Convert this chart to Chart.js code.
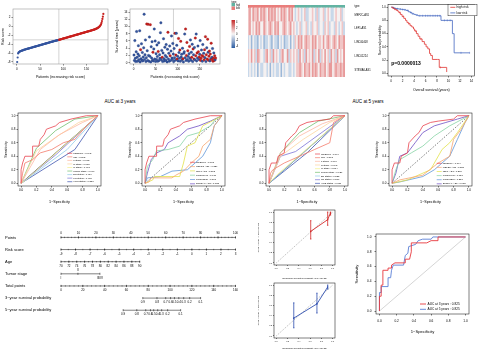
<!DOCTYPE html>
<html>
<head>
<meta charset="utf-8">
<script src="https://cdn.jsdelivr.net/npm/chart.js@4.4.1/dist/chart.umd.min.js"></script>
<style>
body{margin:0;width:480px;height:350px;background:#fff;position:relative;overflow:hidden;font-family:"Liberation Sans",Arial,sans-serif}
canvas{position:absolute}
.t{position:absolute;white-space:nowrap;color:#000;transform:translate(-50%,-50%)}
</style>
</head>
<body>
<div class="t" style="left:120px;top:101px;font-size:4.6px">AUC at 3 years</div>
<div class="t" style="left:368px;top:101px;font-size:4.6px">AUC at 5 years</div>
<script>
// ---- risk score / survival scatter ----
const riskScore = [-8.0,-7.0,-6.1,-5.9,-5.8,-5.72,-5.66,-5.6,-5.56,-5.52,
  -5.48,-5.44,-5.4,-5.36,-5.32,-5.28,-5.25,-5.22,-5.19,-5.16,
  -5.13,-5.1,-5.07,-5.04,-5.01,-4.98,-4.95,-4.92,-4.89,-4.86,
  -4.83,-4.8,-4.77,-4.74,-4.71,-4.68,-4.65,-4.62,-4.59,-4.56,
  -4.53,-4.5,-4.47,-4.44,-4.41,-4.38,-4.35,-4.32,-4.29,-4.26,
  -4.23,-4.2,-4.17,-4.14,-4.11,-4.08,-4.05,-4.02,-3.99,-3.96,
  -3.93,-3.9,-3.87,-3.84,-3.81,-3.78,-3.75,-3.72,-3.69,-3.66,
  -3.63,-3.6,-3.57,-3.54,-3.51,-3.48,-3.45,-3.42,-3.39,-3.36,
  -3.33,-3.3,-3.28,-3.26,-3.24,-3.21,-3.18,-3.15,-3.12,-3.09,
  -3.06,-3.03,-3.0,-2.97,-2.94,-2.91,-2.88,-2.85,-2.82,-2.79,
  -2.76,-2.73,-2.7,-2.67,-2.64,-2.61,-2.58,-2.55,-2.52,-2.49,
  -2.46,-2.43,-2.4,-2.37,-2.34,-2.31,-2.28,-2.25,-2.22,-2.19,
  -2.16,-2.13,-2.1,-2.07,-2.04,-2.01,-1.98,-1.95,-1.92,-1.89,
  -1.86,-1.83,-1.8,-1.77,-1.74,-1.71,-1.68,-1.65,-1.62,-1.59,
  -1.56,-1.53,-1.5,-1.47,-1.44,-1.41,-1.38,-1.35,-1.32,-1.29,
  -1.26,-1.23,-1.2,-1.17,-1.14,-1.11,-1.08,-1.05,-1.02,-0.99,
  -0.96,-0.93,-0.9,-0.87,-0.84,-0.8,-0.76,-0.72,-0.68,-0.64,
  -0.59,-0.54,-0.48,-0.42,-0.35,-0.27,-0.18,-0.08,0.05,0.2,
  0.4,0.7,1.1,1.6,2.1,2.7];
const riskCut = -3.07;
const medianPatient = 90.5;
const survTime = [2.1,0.6,6.1,1.2,0.3,3.0,8.6,1.5,0.4,2.4,
  4.7,0.8,1.9,8.8,0.2,3.6,1.1,5.2,0.7,2.8,
  0.5,1.6,4.1,13.4,0.9,2.2,6.3,0.3,1.4,10.7,
  3.3,0.6,10.6,2.0,0.4,7.1,1.8,10.5,0.2,4.4,
  1.3,5.8,0.7,2.9,0.5,3.8,9.3,1.0,6.0,0.3,
  2.5,0.9,4.9,1.7,0.4,3.1,5.5,0.6,2.2,1.2,
  8.3,11.0,0.8,3.4,1.5,0.3,2.7,6.6,1.1,0.5,
  4.3,2.0,0.7,5.0,1.6,0.2,3.7,8.4,1.0,2.6,
  0.4,4.6,1.9,0.6,3.2,7.4,1.3,0.9,5.3,2.4,
  0.3,3.9,1.4,8.1,0.7,2.1,8.1,4.8,1.0,1.8,
  0.5,6.7,2.8,1.2,3.5,0.4,5.9,1.6,2.3,0.8,
  4.0,1.1,0.2,2.6,3.0,7.9,1.4,9.3,0.6,2.0,
  5.6,0.9,3.3,1.7,0.4,2.5,4.5,1.2,6.3,0.7,
  2.9,1.5,5.1,0.3,3.8,2.2,1.0,4.2,0.8,6.8,
  1.9,7.9,0.5,2.7,1.3,4.6,3.0,0.9,1.6,2.3,
  6.1,0.6,1.2,3.5,2.0,0.4,5.0,1.7,2.6,0.8,
  3.6,1.4,7.2,0.3,2.2,4.1,1.0,6.5,2.9,0.7,
  1.8,3.2,0.5,2.4,1.1,5.4,0.9,1.5,3.9,0.4,
  1.2,2.7,0.6,1.9,0.8,1.3];
const survStatus = [0,0,0,0,0,0,0,0,0,0, 0,0,0,0,0,1,0,0,0,0, 0,0,0,0,0,0,0,0,0,1,
  0,0,1,0,0,0,0,1,0,0, 0,0,0,1,0,0,0,0,0,0, 0,0,0,0,0,1,0,0,0,0,
  0,0,0,0,1,0,0,0,0,0, 0,0,0,0,0,0,0,1,0,0, 0,0,1,0,0,0,0,0,0,0,
  0,0,0,1,0,1,0,0,1,0, 0,1,0,0,1,0,1,0,0,0, 0,1,0,0,0,0,0,1,0,1,
  1,0,1,0,0,0,1,0,0,0, 0,1,0,0,1,0,1,0,0,1, 1,0,0,1,0,0,1,0,1,0,
  0,1,1,0,1,0,0,1,0,1, 1,0,1,0,1,0,1,1,0,1, 1,1,0,1,0,1,1,0,0,1,
  1,0,1,1,0,1];
const patientTicks = [0,50,100,150];
const riskTicks = [-8,-6,-4,-2,0,2];
const timeTicks = [0,2,4,6,8,10,12,14];
const colourBarTicks = ['4','2','0','-2','-4'];

// ---- heatmap (0 = low/blue ... 3 = mid ... 6 = high/red) ----
const genes = ['MEF2C-AS1','LEF1-AS1','LINC00408','LINC01224','ST8SIA6-AS1'];
const heatType = 'llllllllll' + 'llllllllll' + 'llllllllll' + 'hhhhhhhhhh' + 'hhhhhhhhhh' + 'hhhhhhhhhh' + 'hh';
const heatRows = [
  '453544535454354545343545435453' + '23432342233432423342343223433423',
  '453435453354345435453345434534' + '32342334232433423324342332432342',
  '231322132312232132213231223132' + '43545345443545344353454345435445',
  '435342543324534253432453352434' + '34253425343524352435342534253435',
  '232323132233231323223132332232' + '34454354453545435445345534544545'
];

// ---- Kaplan-Meier ----
const kmHighT = [0,0.2,0.4,0.6,0.8,1.0,1.2,1.35,1.6,1.9,2.2,2.5,2.75,3.0,3.3,3.6,3.9,4.1,4.4,4.7,5.0,5.4,5.8,6.1,6.4,6.7,6.9,7.2,8.1,8.4,9.6,9.7];
const kmHighS = [1,0.99,0.98,0.97,0.96,0.95,0.93,0.92,0.89,0.86,0.83,0.8,0.77,0.75,0.72,0.7,0.67,0.64,0.6,0.56,0.52,0.48,0.44,0.4,0.37,0.3,0.27,0.21,0.21,0.09,0.09,0.02];
const kmLowT = [0,0.3,0.6,1.0,1.4,1.8,2.2,2.6,3.0,3.3,3.6,4.0,4.3,4.7,8.7,10.7,11.0,13.7];
const kmLowS = [1,0.99,0.98,0.975,0.97,0.965,0.96,0.95,0.93,0.92,0.9,0.89,0.88,0.87,0.8,0.6,0.31,0.31];
const kmHighCensor = [0.3,0.6,0.9,1.5,2.1,3.1,4.3,5.2,8.6];
const kmLowCensor = [0.4,0.7,1.1,1.6,2.0,2.4,2.9,3.4,3.8,4.5,5.0,5.5,6.0,6.4,6.8,7.3,7.7,8.1,8.5,9.3,9.8,10.3,12.2,13.7];
const kmTimeTicks = [0,2,4,6,8,10,12,14];
const probTicks = [0,0.2,0.4,0.6,0.8,1];
const pValue = 'p=0.0000013';

// ---- ROC curves ----
const clinicalNames = ['riskScore','age','T stage','N stage','M stage','Tumor stage','ER status','PR status','Her2 status'];
const geneNames = ['riskScore','MEF2C-AS1','LEF1-AS1','LINC00408','LINC01224','ST8SIA6-AS1'];
const auc3Clinical = ['0.792','0.562','0.613','0.685','0.481','0.669','0.454','0.473','0.358'];
const auc5Clinical = ['0.794','0.561','0.664','0.695','0.514','0.727','0.533','0.506','0.637'];
const auc3Gene = ['0.792','0.329','0.565','0.610','0.398','0.622'];
const auc5Gene = ['0.794','0.356','0.368','0.627','0.327','0.638'];
const roc3Risk = [[0,0],[0,0.2],[0.02,0.3],[0.05,0.4],[0.15,0.4],[0.15,0.55],[0.23,0.55],[0.25,0.65],[0.3,0.72],[0.33,0.8],[0.45,0.85],[0.5,0.9],[0.65,0.95],[0.85,1],[1,1]];
const roc5Risk = [[0,0],[0,0.2],[0.03,0.3],[0.1,0.3],[0.12,0.4],[0.2,0.45],[0.22,0.6],[0.3,0.7],[0.35,0.75],[0.4,0.85],[0.5,0.9],[0.6,0.92],[0.8,0.95],[0.85,1],[1,1]];
const roc3Clinical = [roc3Risk,
  [[0,0],[0.02,0.15],[0.05,0.3],[0.15,0.35],[0.25,0.45],[0.4,0.5],[0.55,0.6],[0.7,0.65],[0.85,0.85],[1,1]],
  [[0,0],[0.25,0.5],[0.5,0.72],[0.8,0.9],[1,1]],
  [[0,0],[0.2,0.48],[0.45,0.68],[0.75,0.9],[1,1]],
  [[0,0],[0.05,0.04],[1,1]],
  [[0,0],[0.2,0.52],[0.45,0.78],[0.7,0.95],[1,1]],
  [[0,0],[0.6,0.5],[1,1]],
  [[0,0],[0.45,0.42],[1,1]],
  [[0,0],[0.7,0.5],[1,1]]];
const roc3Gene = [roc3Risk,
  [[0,0],[0.05,0.02],[0.08,0.08],[0.35,0.08],[0.4,0.12],[0.5,0.18],[0.6,0.3],[0.7,0.4],[0.75,0.55],[0.85,0.65],[0.9,0.85],[1,1]],
  [[0,0],[0.1,0.05],[0.12,0.1],[0.45,0.1],[0.5,0.3],[0.55,0.55],[0.65,0.6],[0.75,0.85],[0.92,0.95],[1,1]],
  [[0,0],[0.03,0.25],[0.1,0.35],[0.15,0.48],[0.3,0.5],[0.45,0.55],[0.55,0.7],[0.7,0.75],[0.85,0.85],[0.92,0.95],[1,1]],
  [[0,0],[0.03,0.08],[0.2,0.1],[0.35,0.18],[0.55,0.2],[0.65,0.3],[0.75,0.4],[0.85,0.6],[0.9,0.85],[1,1]],
  [[0,0],[0.03,0.15],[0.08,0.35],[0.15,0.45],[0.25,0.5],[0.3,0.6],[0.45,0.7],[0.55,0.8],[0.7,0.85],[0.85,0.92],[1,1]]];
const roc5Clinical = [roc5Risk,
  [[0,0],[0.02,0.15],[0.05,0.2],[0.2,0.3],[0.4,0.4],[0.6,0.5],[0.8,0.6],[0.85,0.9],[1,1]],
  [[0,0],[0.15,0.45],[0.4,0.7],[0.7,0.88],[1,1]],
  [[0,0],[0.15,0.4],[0.45,0.65],[0.8,0.9],[1,1]],
  [[0,0],[0.1,0.12],[1,1]],
  [[0,0],[0.15,0.45],[0.4,0.75],[0.65,0.92],[1,1]],
  [[0,0],[0.55,0.55],[1,1]],
  [[0,0],[0.15,0.4],[0.35,0.47],[1,1]],
  [[0,0],[0.5,0.45],[1,1]]];
const roc5Gene = [roc5Risk,
  [[0,0],[0.1,0.05],[0.4,0.12],[0.6,0.3],[0.75,0.4],[0.8,0.65],[0.9,0.8],[1,1]],
  [[0,0],[0.2,0.05],[0.5,0.2],[0.65,0.5],[0.75,0.6],[0.85,0.75],[1,1]],
  [[0,0],[0.05,0.2],[0.1,0.35],[0.25,0.45],[0.4,0.55],[0.55,0.7],[0.75,0.85],[1,1]],
  [[0,0],[0.1,0.02],[0.4,0.1],[0.55,0.2],[0.75,0.4],[0.85,0.65],[0.95,0.9],[1,1]],
  [[0,0],[0.05,0.15],[0.1,0.4],[0.2,0.45],[0.3,0.6],[0.4,0.75],[0.55,0.85],[0.7,0.9],[0.85,0.95],[1,1]]];

// ---- nomogram ----
const nomoNames = ['Points','Risk score','Age','Tumor stage','Total points','3\u2212year survival probability','5\u2212year survival probability'];
const pointsTicks = [0,10,20,30,40,50,60,70,80,90,100];
const nomoRiskTicks = [-9,-8,-7,-6,-5,-4,-3,-2,-1,0,1,2,3];
const ageTicks = [70,72,74,76,78,80,82,84,86,88,90];
const ageMaxPoints = 45.1;
const stageLabels = ['I','II','III/IV'];
const stagePoints = [0,9.7,22.3];
const totalTicks = [0,20,40,60,80,100,120,140,160];
const survLabels = ['0.9','0.8','0.7','0.6','0.5','0.4','0.3','0.2','0.1'];
const surv3Total = [75,88,96,100.5,104,108,112.5,118,128];
const surv5Total = [57,69.5,77.7,82,85,88.7,92.3,97.8,109.7];

// ---- calibration ----
const cal3Pred = [0.61,0.91,0.96], cal3Obs = [0.62,0.85,0.98], cal3Lo = [0.47,0.74,0.94], cal3Hi = [0.83,1.0,1.0];
const cal5Pred = [0.31,0.72,0.91], cal5Obs = [0.35,0.63,0.96], cal5Lo = [0.16,0.45,0.92], cal5Hi = [0.65,0.84,1.0];

// ---- nomogram ROC ----
const nomoRoc3 = [[0,0],[0,0.2],[0.02,0.2],[0.02,0.35],[0.04,0.35],[0.04,0.55],[0.1,0.55],[0.1,0.58],[0.14,0.58],[0.14,0.62],[0.18,0.65],[0.3,0.65],[0.3,0.7],[0.35,0.7],[0.37,0.8],[0.37,0.92],[0.55,0.92],[0.6,0.95],[0.68,0.95],[0.68,1],[1,1]];
const nomoRoc5 = [[0,0],[0,0.25],[0.02,0.25],[0.02,0.33],[0.1,0.33],[0.1,0.45],[0.13,0.45],[0.14,0.55],[0.16,0.62],[0.28,0.62],[0.3,0.75],[0.33,0.78],[0.34,0.87],[0.42,0.9],[0.45,0.95],[0.5,0.97],[0.6,0.97],[0.62,1],[1,1]];
const nomoAucNames = ['AUC at 3 years : 0.825','AUC at 5 years : 0.825'];

// ---- styles ----
const FONT = '"Liberation Sans", Arial, sans-serif';
const RED = '#c8211f', BLUE = '#34559f';
const clinCols = ['#e8434e','#f47b6b','#fcb8a2','#fdd49e','#f4ef8e','#72c070','#90cbe8','#7b74d6','#3f56b0'];
const geneCols = ['#e8434e','#f6a46e','#e3e24a','#86d3a4','#5f95d8','#6f4fc4'];
const heatPal = ['#5a82b8','#9db8d8','#c8d8ea','#f5f1f1','#f1c6c6','#e89a9a','#dc6666'];

Chart.defaults.font.family = FONT;
Chart.defaults.color = '#000';

function cv(L, T, W, H) {
  const c = document.createElement('canvas');
  c.width = W; c.height = H;
  c.style.left = L + 'px'; c.style.top = T + 'px';
  document.body.appendChild(c);
  return c.getContext('2d');
}
function frame(L, T, W, H, x0, y0, x1, y1) {
  return { pad: { top: y0 - T, right: L + W - x1, left: 0, bottom: 0 }, yW: x0 - L, xH: T + H - y1 };
}
function axis(pos, min, max, ticks, title, fit, o) {
  o = o || {};
  const horiz = pos === 'bottom';
  return {
    type: 'linear', position: pos, min: min, max: max,
    afterBuildTicks: s => { s.ticks = ticks.map(v => ({ value: v })); },
    afterFit: s => { if (horiz) s.height = fit; else s.width = fit; },
    grid: { drawOnChartArea: false, drawTicks: true, tickLength: o.tl || 1.5, color: '#000', lineWidth: 0.5 },
    border: { display: false },
    ticks: { font: { size: o.fs || 3 }, color: '#000', padding: o.tp || 1, maxRotation: 0, minRotation: 0, autoSkip: false,
      callback: o.fmt || (v => String(v)) },
    title: { display: !!title, text: title, font: { size: o.ts || 3.6 }, color: '#000', padding: { top: o.tpad || 0, bottom: 0 } }
  };
}
function opts(f, scales) {
  return { responsive: false, animation: false, events: [], layout: { padding: f.pad }, scales: scales,
    plugins: { legend: { display: false }, tooltip: { enabled: false } } };
}
function boxP(color, w) {
  return { id: 'box', afterDatasetsDraw(ch) {
    const c = ch.ctx, r = ch.chartArea;
    c.save(); c.strokeStyle = color; c.lineWidth = w || 0.6;
    c.strokeRect(r.left, r.top, r.right - r.left, r.bottom - r.top); c.restore();
  } };
}
function refP(xs, ys, color) {
  return { id: 'ref', beforeDatasetsDraw(ch) {
    const c = ch.ctx, r = ch.chartArea;
    c.save(); c.strokeStyle = color; c.lineWidth = 0.6; c.beginPath();
    xs.forEach(v => { const p = ch.scales.x.getPixelForValue(v); c.moveTo(p, r.top); c.lineTo(p, r.bottom); });
    ys.forEach(v => { const p = ch.scales.y.getPixelForValue(v); c.moveTo(r.left, p); c.lineTo(r.right, p); });
    c.stroke(); c.restore();
  } };
}
function legP(o) {
  return { id: 'leg', afterDatasetsDraw(ch) {
    const c = ch.ctx, r = ch.chartArea;
    c.save();
    if (o.box) {
      c.fillStyle = '#fff'; c.fillRect(r.left + o.box[0], r.top + o.box[1], o.box[2], o.box[3]);
      c.strokeStyle = '#000'; c.lineWidth = 0.4; c.strokeRect(r.left + o.box[0], r.top + o.box[1], o.box[2], o.box[3]);
    }
    c.font = o.size + 'px ' + FONT; c.textBaseline = 'middle'; c.textAlign = 'left';
    o.items.forEach((it, i) => {
      const x = r.left + o.dx, y = r.top + o.dy + i * o.lineH;
      c.strokeStyle = it.color; c.lineWidth = o.lw || 0.8;
      c.beginPath(); c.moveTo(x, y); c.lineTo(x + o.len, y); c.stroke();
      c.fillStyle = '#000'; c.fillText(it.text, x + o.len + (o.gap || 1), y);
    });
    c.restore();
  } };
}

// ---------- A: risk score curve ----------
(function () {
  const f = frame(0, 4, 112, 75, 13, 9, 110, 64);
  const o = opts(f, {
    x: axis('bottom', -8, 196, patientTicks, 'Patients (increasing risk score)', f.xH, { tp: 1.6 }),
    y: axis('left', -8.45, 3.8, riskTicks, 'Risk score', f.yW, { tpad: 1 })
  });
  new Chart(cv(0, 4, 112, 75), {
    type: 'scatter',
    data: { datasets: [{ data: riskScore.map((v, i) => ({ x: i + 1, y: v })), pointRadius: 1.1, pointBorderWidth: 0,
      pointBackgroundColor: riskScore.map(v => v < riskCut ? BLUE : RED) }] },
    options: o,
    plugins: [boxP('#9a9a9a'), refP([medianPatient], [riskCut], '#b5b5b5')]
  });
})();

// ---------- B: survival status scatter + heatmap legend ----------
(function () {
  const f = frame(114, 0, 126, 79, 130, 9, 220, 64);
  const o = opts(f, {
    x: axis('bottom', -8, 196, patientTicks, 'Patients (increasing risk score)', f.xH, { tp: 1.6 }),
    y: axis('left', -0.36, 14.83, timeTicks, 'Survival time (years)', f.yW, { tpad: 0.5 })
  });
  const legend = { id: 'heatLegend', afterDraw(ch) {
    const c = ch.ctx, ox = 114;
    c.save(); c.font = '2.6px ' + FONT; c.textBaseline = 'middle'; c.textAlign = 'left'; c.fillStyle = '#000';
    c.fillText('type', 231.5 - ox, 1.8);
    c.fillStyle = '#62b3a2'; c.fillRect(231.5 - ox, 3, 3.5, 3.5);
    c.fillStyle = '#e97d7b'; c.fillRect(231.5 - ox, 6.5, 3.5, 3.5);
    c.fillStyle = '#000'; c.fillText('high', 236 - ox, 4.8); c.fillText('low', 236 - ox, 8.3);
    const g = c.createLinearGradient(0, 20, 0, 48);
    g.addColorStop(0, '#c62a2a'); g.addColorStop(0.5, '#f7f5f5'); g.addColorStop(1, '#2c5da3');
    c.fillStyle = g; c.fillRect(231.5 - ox, 20, 3.5, 28);
    c.fillStyle = '#000';
    colourBarTicks.forEach((t, i) => c.fillText(t, 236 - ox, 22 + i * 6));
    c.restore();
  } };
  new Chart(cv(114, 0, 126, 79), {
    type: 'scatter',
    data: { datasets: [{ data: survTime.map((v, i) => ({ x: i + 1, y: v })), pointRadius: 1.25, pointBorderWidth: 0.3,
      pointBackgroundColor: survStatus.map(s => s ? RED : BLUE), pointBorderColor: survStatus.map(s => s ? '#8a1010' : '#1e3570') }] },
    options: o,
    plugins: [boxP('#9a9a9a'), refP([medianPatient], [], '#b5b5b5'), legend]
  });
})();

// ---------- heatmap ----------
(function () {
  const cols = heatType.split('');
  const datasets = [];
  for (let g = genes.length - 1; g >= 0; g--) {
    datasets.push({ data: cols.map(() => 1), backgroundColor: heatRows[g].split('').map(d => heatPal[+d]),
      borderWidth: 0, barPercentage: 1, categoryPercentage: 1 });
  }
  datasets.push({ data: cols.map(() => 0.21), backgroundColor: cols.map(t => t === 'l' ? '#e97d7b' : '#62b3a2'),
    borderWidth: 0, barPercentage: 1, categoryPercentage: 1 });
  const rowTicks = [0.5, 1.5, 2.5, 3.5, 4.5, 5.1];
  new Chart(cv(248, 2, 134, 78), {
    type: 'bar',
    data: { labels: cols.map((_, i) => i + 1), datasets: datasets },
    options: {
      responsive: false, animation: false, events: [],
      layout: { padding: { top: 1, bottom: 3, left: 0, right: 0 } },
      scales: {
        x: { type: 'category', stacked: true, display: false },
        y: { type: 'linear', position: 'right', stacked: true, min: 0, max: 5.21,
          afterBuildTicks: s => { s.ticks = rowTicks.map(v => ({ value: v })); },
          afterFit: s => { s.width = 37; },
          grid: { display: false }, border: { display: false },
          ticks: { font: { size: 2.6 }, color: '#000', padding: 1.5, autoSkip: false,
            callback: v => v > 5 ? 'type' : genes[4 - Math.floor(v)] } }
      },
      plugins: { legend: { display: false }, tooltip: { enabled: false } }
    }
  });
})();

// ---------- Kaplan-Meier ----------
(function () {
  const kmAt = (T, S, t) => { let s = S[0]; T.forEach((v, i) => { if (v <= t) s = S[i]; }); return s; };
  const f = frame(378, 0, 101, 92, 388, 2, 477, 76);
  const fmt = v => v.toFixed(1);
  const o = opts(f, {
    x: axis('bottom', -0.56, 14.56, kmTimeTicks, 'Overall survival (years)', f.xH, { tp: 1.5 }),
    y: axis('left', -0.04, 1.04, probTicks, 'Survival probability', f.yW, { fmt: fmt, fs: 2.8, tp: 0.6 })
  });
  const pText = { id: 'pval', afterDatasetsDraw(ch) {
    const c = ch.ctx; c.save(); c.font = 'bold 5px ' + FONT; c.textBaseline = 'middle'; c.fillStyle = '#000';
    c.fillText(pValue, ch.scales.x.getPixelForValue(0), ch.scales.y.getPixelForValue(0.14)); c.restore();
  } };
  const line = (T, S, col) => ({ data: T.map((t, i) => ({ x: t, y: S[i] })), showLine: true, stepped: true,
    borderColor: col, borderWidth: 0.8, pointRadius: 0 });
  const cens = (C, T, S, col) => ({ data: C.map(t => ({ x: t, y: kmAt(T, S, t) })), showLine: false,
    pointStyle: 'line', rotation: 90, pointRadius: 1, pointBorderWidth: 0.5, pointBorderColor: col });
  new Chart(cv(378, 0, 101, 92), {
    type: 'scatter',
    data: { datasets: [line(kmHighT, kmHighS, '#e03331'), line(kmLowT, kmLowS, '#4467c0'),
      cens(kmHighCensor, kmHighT, kmHighS, '#e03331'), cens(kmLowCensor, kmLowT, kmLowS, '#4467c0')] },
    options: o,
    plugins: [boxP('#000', 0.5), pText, legP({ items: [{ text: 'high risk', color: '#e03331' }, { text: 'low risk', color: '#4467c0' }],
      dx: 62.3, dy: 2.8, lineH: 5.6, len: 5, gap: 1.3, size: 3.2, box: [60, 0, 29, 11.3] })]
  });
})();

// ---------- ROC panels ----------
function rocChart(L, T, W, H, box, curves, labels, cols, diag, leg, o2) {
  o2 = o2 || {};
  const f = frame(L, T, W, H, box[0], box[1], box[2], box[3]);
  const fmt = v => v.toFixed(1);
  const o = opts(f, {
    x: axis('bottom', -0.04, 1.04, probTicks, '1\u2212Specificity', f.xH, { fmt: fmt, fs: o2.fs || 3, ts: o2.ts || 3.7, tp: o2.tpx || 1 }),
    y: axis('left', -0.04, 1.04, probTicks, 'Sensitivity', f.yW, { fmt: fmt, fs: o2.fs || 3, ts: o2.ts || 3.7, tpad: o2.tpad || 2, tp: o2.tpy || 1 })
  });
  const ds = curves.map((c, i) => ({ data: c.map(p => ({ x: p[0], y: p[1] })), showLine: true, borderColor: cols[i],
    borderWidth: o2.lw || 0.8, pointRadius: 0 }));
  ds.push({ data: [{ x: 0, y: 0 }, { x: 1, y: 1 }], showLine: true, borderColor: diag.color, borderWidth: diag.width,
    borderDash: diag.dash, pointRadius: 0 });
  leg.items = labels.map((t, i) => ({ text: t, color: cols[i] }));
  new Chart(cv(L, T, W, H), { type: 'scatter', data: { datasets: ds }, options: o, plugins: [boxP('#000', 0.5), legP(leg)] });
}
const lab = (names, aucs) => names.map((n, i) => n + ' : ' + aucs[i]);
rocChart(2, 108, 102, 96, [18, 113, 101, 186], roc3Clinical, lab(clinicalNames, auc3Clinical), clinCols,
  { color: '#000', width: 0.6, dash: [] }, { dx: 49.3, dy: 40.3, lineH: 3.55, len: 5, gap: 1, size: 2.4, lw: 0.7 });
rocChart(126, 108, 102, 96, [142, 113, 225, 186], roc3Gene, lab(geneNames, auc3Gene), geneCols,
  { color: '#000', width: 0.5, dash: [1.5, 1.5] }, { dx: 48, dy: 49.3, lineH: 4.3, len: 5, gap: 1, size: 2.4, lw: 0.7 });
rocChart(250, 108, 101, 96, [266, 113, 348, 186], roc5Clinical, lab(clinicalNames, auc5Clinical), clinCols,
  { color: '#000', width: 0.6, dash: [] }, { dx: 49, dy: 41, lineH: 3.67, len: 5, gap: 1, size: 2.4, lw: 0.7 });
rocChart(373, 108, 103, 96, [389, 113, 472, 186], roc5Gene, lab(geneNames, auc5Gene), geneCols,
  { color: '#000', width: 0.5, dash: [1.5, 1.5] }, { dx: 47.7, dy: 50.3, lineH: 4.1, len: 5, gap: 1, size: 2.4, lw: 0.7 });

// ---------- nomogram ----------
(function () {
  const rows = [
    { pos: pointsTicks, lab: pointsTicks, minor: 2, from: 0, to: 100, up: true },
    { pos: nomoRiskTicks.map(v => (v + 9) / 12 * 100), lab: nomoRiskTicks, minor: 100 / 24, from: 0, to: 100 },
    { pos: ageTicks.map(v => (v - 70) / 20 * ageMaxPoints), lab: ageTicks, minor: ageMaxPoints / 20, from: 0, to: ageMaxPoints },
    { pos: stagePoints, lab: stageLabels, from: 0, to: stagePoints[2], dy: [4.5, -4, 4.5] },
    { pos: totalTicks.map(v => v / 1.6), lab: totalTicks, minor: 2.5, from: 0, to: 100 },
    { pos: surv3Total.map(v => v / 1.6), lab: survLabels, from: surv3Total[0] / 1.6, to: surv3Total[8] / 1.6 },
    { pos: surv5Total.map(v => v / 1.6), lab: survLabels, from: surv5Total[0] / 1.6, to: surv5Total[8] / 1.6 }
  ];
  const ds = [];
  rows.forEach((r, i) => {
    ds.push({ data: [{ x: r.from, y: i }, { x: r.to, y: i }], showLine: true, borderColor: '#000', borderWidth: 0.5, pointRadius: 0, clip: false });
    ds.push({ data: r.pos.map(p => ({ x: p, y: i })), pointStyle: 'line', rotation: 90, pointRadius: 1.1,
      pointBorderWidth: 0.5, pointBorderColor: '#000', clip: false });
    if (r.minor) {
      const m = [];
      for (let p = r.from; p <= r.to + 1e-6; p += r.minor) m.push({ x: p, y: i });
      ds.push({ data: m, pointStyle: 'line', rotation: 90, pointRadius: 0.7, pointBorderWidth: 0.4, pointBorderColor: '#000', clip: false });
    }
  });
  const labels = { id: 'nomoLabels', afterDatasetsDraw(ch) {
    const c = ch.ctx, sx = ch.scales.x, sy = ch.scales.y;
    c.save(); c.fillStyle = '#000'; c.textBaseline = 'middle';
    rows.forEach((r, i) => {
      const y = sy.getPixelForValue(i);
      c.font = '4px ' + FONT; c.textAlign = 'left'; c.fillText(nomoNames[i], 5, y);
      c.font = '3px ' + FONT; c.textAlign = 'center';
      r.pos.forEach((p, k) => {
        const dy = r.dy ? r.dy[k] : (r.up ? -4 : 4.3);
        c.fillText(String(r.lab[k]), sx.getPixelForValue(p), y + dy);
      });
    });
    c.restore();
  } };
  new Chart(cv(0, 222, 240, 100), {
    type: 'scatter',
    data: { datasets: ds },
    options: { responsive: false, animation: false, events: [],
      layout: { padding: { left: 61, right: 4, top: 0, bottom: 0 } },
      scales: { x: { type: 'linear', min: 0, max: 100, display: false },
        y: { type: 'linear', min: -0.9, max: 6.6, reverse: true, display: false } },
      plugins: { legend: { display: false }, tooltip: { enabled: false } } },
    plugins: [labels]
  });
})();

// ---------- calibration ----------
function calChart(L, T, W, H, box, pred, obs, lo, hi, col, xt, yt) {
  const f = frame(L, T, W, H, box[0], box[1], box[2], box[3]);
  const fmt = v => v.toFixed(1);
  const o = opts(f, {
    x: axis('bottom', -0.04, 1.04, probTicks, xt, f.xH, { fmt: fmt, fs: 2, ts: 2.2, tl: 1, tp: 1 }),
    y: axis('left', -0.04, 1.04, probTicks, yt, f.yW, { fmt: fmt, fs: 2, ts: 2.2, tl: 1, tpad: 2, tp: 1 })
  });
  const bars = [];
  pred.forEach((p, i) => {
    bars.push({ x: p, y: lo[i] }, { x: p, y: hi[i] }, { x: p, y: null },
      { x: p - 0.012, y: lo[i] }, { x: p + 0.012, y: lo[i] }, { x: p, y: null },
      { x: p - 0.012, y: hi[i] }, { x: p + 0.012, y: hi[i] }, { x: p, y: null });
  });
  new Chart(cv(L, T, W, H), {
    type: 'scatter',
    data: { datasets: [
      { data: pred.map((p, i) => ({ x: p, y: obs[i] })), showLine: true, borderColor: col, borderWidth: 0.9,
        pointRadius: 0.8, pointBackgroundColor: col, pointBorderWidth: 0 },
      { data: bars, showLine: true, spanGaps: false, borderColor: col, borderWidth: 0.8, pointRadius: 0 },
      { data: [{ x: 0, y: 0 }, { x: 1, y: 1 }], showLine: true, borderColor: '#777', borderWidth: 0.5, borderDash: [1.2, 1.2], pointRadius: 0 }
    ] },
    options: o,
    plugins: [boxP('#000', 0.5)]
  });
}
calChart(255, 204, 84, 76, [274, 210, 337, 265], cal3Pred, cal3Obs, cal3Lo, cal3Hi, '#d42a2a',
  'Nomogram-predicted probability of 3-year OS', 'Actual probability of 3-year OS');
calChart(255, 278, 84, 72, [274, 283, 337, 338], cal5Pred, cal5Obs, cal5Lo, cal5Hi, '#2f4fb0',
  'Nomogram-predicted probability of 5-year OS', 'Actual probability of 5-year OS');

// ---------- nomogram ROC ----------
rocChart(350, 228, 126, 106, [376, 234, 469, 314], [nomoRoc3, nomoRoc5], nomoAucNames, ['#e8383d', '#5a7fd6'],
  { color: '#aaa', width: 0.5, dash: [] }, { dx: 44, dy: 70, lineH: 5.3, len: 6, gap: 1.5, size: 3.2, lw: 0.9 },
  { fs: 3.2, ts: 4.2, tpad: 4.6, tpx: 4, tpy: 3, lw: 0.9 });
</script>
</body>
</html>
